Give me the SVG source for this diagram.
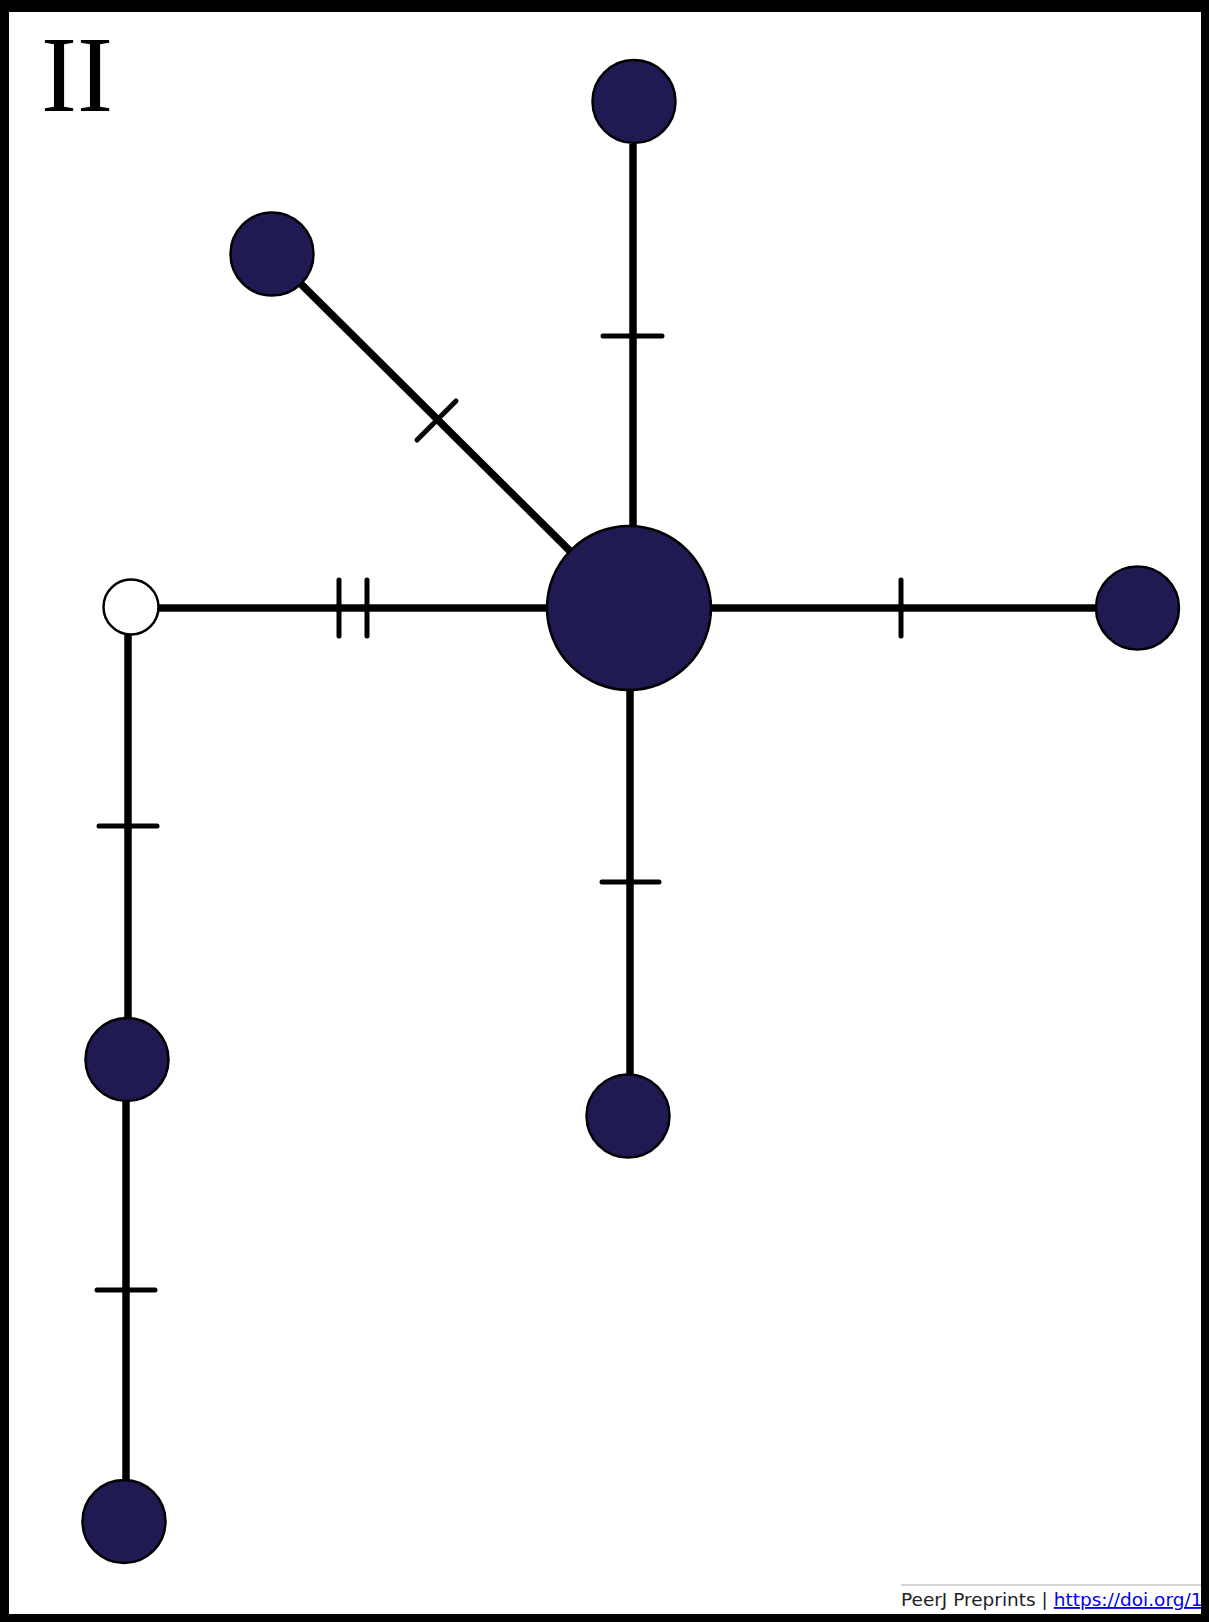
<svg xmlns="http://www.w3.org/2000/svg" width="1209" height="1622" viewBox="0 0 1209 1622">
  <style>
    .edge { stroke: #000; stroke-width: 7.5; fill: none; }
    .tick { stroke: #000; stroke-width: 5; stroke-linecap: round; fill: none; }
    .hap { fill: #1f1a52; stroke: #000; stroke-width: 2.5; }
    .median { fill: #fff; stroke: #000; stroke-width: 2.5; }
    .label { font-family: "Liberation Serif", "DejaVu Serif", serif; font-size: 108px; fill: #000; }
    .footer { font-family: "DejaVu Sans", sans-serif; font-size: 18.5px; fill: #222; }
    .link { fill: #0000ee; text-decoration: underline; }
  </style>

  <rect x="0" y="0" width="1209" height="1622" fill="#fff"/>

  <!-- panel label -->
  <text class="label" x="41" y="111">II</text>

  <!-- branches and mutation ticks -->
  <g id="connectors">
    <line class="edge" x1="633" y1="144" x2="633" y2="526"/>
    <line class="tick" x1="603" y1="336" x2="662" y2="336"/>

    <line class="edge" x1="301" y1="284" x2="571" y2="552"/>
    <line class="tick" x1="417" y1="440" x2="456" y2="401"/>

    <line class="edge" x1="159" y1="608" x2="546" y2="608"/>
    <line class="tick" x1="339" y1="580" x2="339" y2="636"/>
    <line class="tick" x1="367" y1="580" x2="367" y2="636"/>

    <line class="edge" x1="711" y1="608" x2="1096" y2="608"/>
    <line class="tick" x1="901" y1="580" x2="901" y2="636"/>

    <line class="edge" x1="630" y1="690" x2="630" y2="1075"/>
    <line class="tick" x1="602" y1="882" x2="659" y2="882"/>

    <line class="edge" x1="128" y1="635" x2="128" y2="1018"/>
    <line class="tick" x1="99" y1="826" x2="157" y2="826"/>

    <line class="edge" x1="126" y1="1100" x2="126" y2="1481"/>
    <line class="tick" x1="97" y1="1290" x2="155" y2="1290"/>
  </g>

  <!-- nodes -->
  <g id="node-center"><circle class="hap" cx="629" cy="608" r="82"/></g>
  <g id="node-top"><circle class="hap" cx="634" cy="101.5" r="41.5"/></g>
  <g id="node-upper-left"><circle class="hap" cx="272" cy="254" r="41.5"/></g>
  <g id="node-right"><circle class="hap" cx="1137.5" cy="608" r="41.5"/></g>
  <g id="node-bottom"><circle class="hap" cx="628" cy="1116" r="41.5"/></g>
  <g id="node-median"><circle class="median" cx="131" cy="607" r="27.5"/></g>
  <g id="node-left-middle"><circle class="hap" cx="127" cy="1059.5" r="41.5"/></g>
  <g id="node-bottom-left"><circle class="hap" cx="124" cy="1521.5" r="41.5"/></g>

  <!-- footer -->
  <line x1="901" y1="1585" x2="1209" y2="1585" stroke="#aaa" stroke-width="1"/>
  <text class="footer" x="901" y="1606">PeerJ Preprints | <tspan class="link">https://doi.org/1</tspan></text>

  <!-- frame -->
  <path fill="#000" fill-rule="evenodd" d="M0 0H1209V1622H0Z M9 12V1614H1201V12Z"/>
</svg>
